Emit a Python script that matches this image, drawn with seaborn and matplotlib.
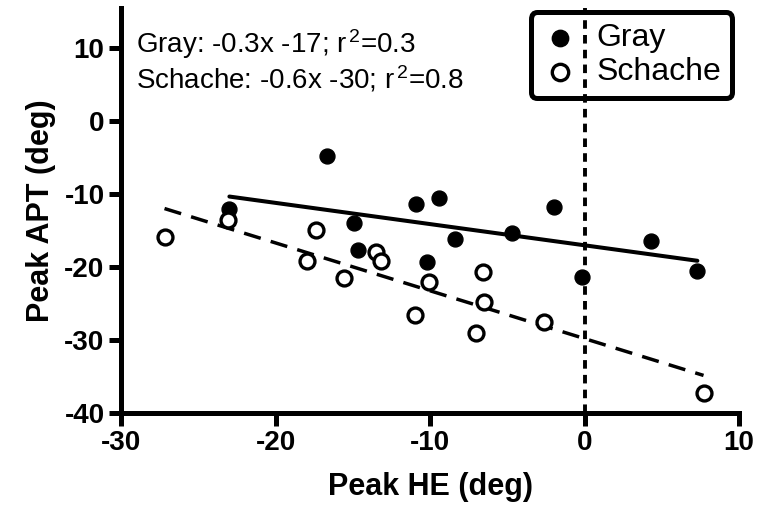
import numpy as np
import pandas as pd
import seaborn as sns
import matplotlib.pyplot as plt

# Peak HE (x) vs Peak APT (y)
gray_he = [-23.0, -16.7, -14.9, -14.7, -10.9, -9.4, -10.2, -8.4, -4.7, -2.0, -0.2, 4.3, 7.3]
gray_apt = [-12.0, -4.7, -14.0, -17.7, -11.4, -10.5, -19.3, -16.2, -15.3, -11.7, -21.3, -16.4, -20.5]

schache_he = [-27.2, -23.1, -17.4, -18.0, -15.6, -13.5, -13.2, -10.1, -11.0, -6.6, -6.5, -7.0, -2.6, 7.7]
schache_apt = [-15.8, -13.5, -14.9, -19.1, -21.5, -17.9, -19.1, -22.1, -26.5, -20.6, -24.8, -29.0, -27.5, -37.3]

fit_text = ["Gray: -0.3x -17; r$^{\\,2}$=0.3", "Schache: -0.6x -30; r$^{\\,2}$=0.8"]

df = pd.concat([
    pd.DataFrame({"he": gray_he, "apt": gray_apt, "group": "Gray"}),
    pd.DataFrame({"he": schache_he, "apt": schache_apt, "group": "Schache"}),
])

sns.set_style("ticks")
plt.rcParams["font.family"] = ["Liberation Sans", "DejaVu Sans"]
plt.rcParams["mathtext.fontset"] = "custom"
plt.rcParams["mathtext.rm"] = "Liberation Sans"
plt.rcParams["mathtext.it"] = "Liberation Sans"
plt.rcParams["axes.unicode_minus"] = False
for key in ["text.color", "axes.labelcolor", "xtick.color", "ytick.color", "axes.edgecolor"]:
    plt.rcParams[key] = "black"

fig = plt.figure(figsize=(7.58, 5.14), dpi=100)
ax = fig.add_axes([0.160, 0.1965, 0.815, 0.7875])

# vertical reference line at 0
ax.axvline(0, color="black", lw=2.8, linestyle=(0, (2.2, 1.6)), zorder=1, clip_on=False)

# regression lines
sns.regplot(data=df[df.group == "Gray"], x="he", y="apt", scatter=False, ci=None,
            truncate=True, color="black", line_kws={"lw": 2.9}, ax=ax)
sns.regplot(data=df[df.group == "Schache"], x="he", y="apt", scatter=False, ci=None,
            truncate=True, color="black", line_kws={"lw": 2.5, "dashes": (5, 3)}, ax=ax)

# points
sns.scatterplot(data=df[df.group == "Gray"], x="he", y="apt", marker="o", s=115,
                color="black", edgecolor="black", linewidth=1, label="Gray", ax=ax, zorder=3)
sns.scatterplot(data=df[df.group == "Schache"], x="he", y="apt", marker="o", s=115,
                facecolor="white", edgecolor="black", linewidth=2.4, label="Schache", ax=ax, zorder=3)

ax.set_xlim(-30, 10)
ax.set_ylim(-40, 15.5)
ax.set_xticks([-30, -20, -10, 0, 10])
ax.set_yticks([-40, -30, -20, -10, 0, 10])
sns.despine(ax=ax)
for side in ["left", "bottom"]:
    ax.spines[side].set_linewidth(3.6)
ax.tick_params(direction="out", length=9, width=3.6, labelsize=20, pad=3)
for lbl in ax.get_xticklabels() + ax.get_yticklabels():
    lbl.set_fontweight("bold")

ax.set_xlabel("Peak HE (deg)", fontsize=22, fontweight="bold", labelpad=12)
ax.set_ylabel("Peak APT (deg)", fontsize=22, fontweight="bold", labelpad=6)

ax.text(0.024, 0.889, fit_text[0], transform=ax.transAxes, fontsize=20, va="baseline")
ax.text(0.024, 0.802, fit_text[1], transform=ax.transAxes, fontsize=20, va="baseline")

leg = ax.legend(loc="upper right", bbox_to_anchor=(0.989, 0.99), fontsize=23,
                frameon=True, fancybox=True, handletextpad=0.6, handlelength=1.1,
                borderpad=0.35, labelspacing=0.12, borderaxespad=0, markerscale=1.1)
frame = leg.get_frame()
frame.set_facecolor("none")
frame.set_edgecolor("black")
frame.set_linewidth(3.6)
frame.set_alpha(None)

fig.savefig("out.png", dpi=100)
